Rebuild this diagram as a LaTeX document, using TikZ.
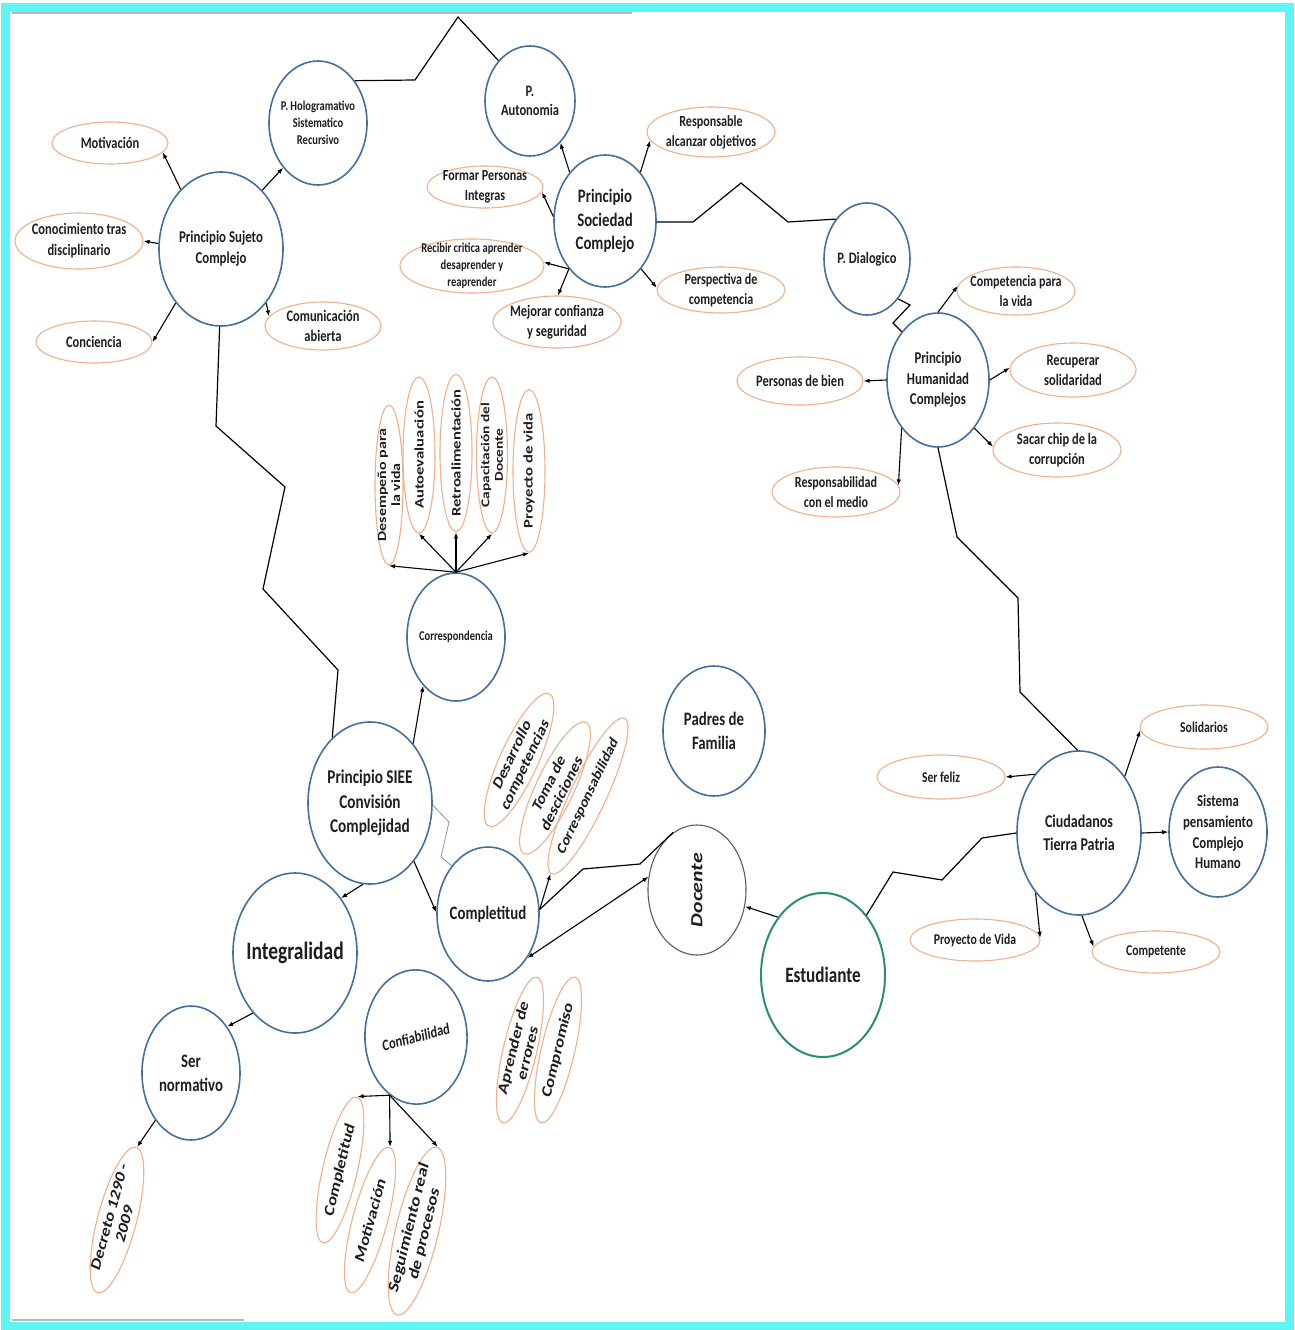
\documentclass[tikz,border=0pt]{standalone}
\usepackage{fontspec}
\setmainfont{Carlito}
\newfontfamily\fh{Carlito}[FakeStretch=0.78]
\newfontfamily\fr{Carlito}
\usetikzlibrary{shapes.geometric,arrows.meta}
\definecolor{bl}{HTML}{44709D}
\definecolor{orc}{HTML}{EFB08A}
\definecolor{tl}{HTML}{2B8C78}
\definecolor{dk}{HTML}{4F5F70}
\definecolor{cy}{HTML}{5EF5F5}
\definecolor{tx}{HTML}{1E1E1E}
\tikzset{
  bc/.style={ellipse, draw=bl, line width=1.6pt, fill=white, inner sep=-90pt, align=center, text=tx},
  oe/.style={ellipse, draw=orc, line width=1.1pt, inner sep=-90pt, align=center, text=tx},
  sz/.style 2 args={minimum width=#1pt, minimum height=#2pt},
  fs/.style 2 args={font=\fh\bfseries\fontsize{#1}{#2}\selectfont},
  fr/.style 2 args={font=\fr\bfseries\fontsize{#1}{#2}\selectfont},
  tr/.style={yscale=1.28, rotate=#1},
  ar/.style={-{Latex[length=6pt,width=4.5pt]}, line width=1.1pt, black},
  arr/.style={{Latex[length=6pt,width=4.5pt]}-{Latex[length=6pt,width=4.5pt]}, line width=1.1pt, black},
  zz/.style={line width=1.2pt, black},
}
\begin{document}
\begin{tikzpicture}[x=1pt,y=-1pt]
\useasboundingbox (0,0) rectangle (1294,1330);
\fill[white] (0,0) rectangle (1294,1330);
\draw[cy, line width=9pt] (5.5,7.5) rectangle (1289.5,1326);
\draw[gray!55, line width=1.2pt] (12,13) -- (632,13);
\draw[gray!55, line width=1.2pt] (12,1320) -- (244,1320);

% blue circles
\node[bc, sz={124}{154}, fs={16.5}{21}] (suj) at (221,249) {Principio Sujeto\\Complejo};
\node[bc, sz={98}{124}, fs={13.5}{16.7}] (hol) at (318,123) {P. Hologramativo\\Sistematico\\Recursivo};
\node[bc, sz={90}{110}, fs={16}{19}] (aut) at (530,101) {P.\\Autonomia};
\node[bc, sz={102}{132}, fs={19}{23.5}] (soc) at (605,221) {Principio\\Sociedad\\Complejo};
\node[bc, sz={86}{112}, fs={16}{20}] (dia) at (867,259) {P. Dialogico};
\node[bc, sz={102}{134}, fs={16.5}{20.5}] (hum) at (938,380) {Principio\\Humanidad\\Complejos};
\node[bc, sz={98}{128}, fs={13.5}{16}] (cor) at (456,637) {Correspondencia};
\node[bc, sz={124}{162}, fs={19.5}{24.5}] (siee) at (370,803) {Principio SIEE\\Convisión\\Complejidad};
\node[bc, sz={124}{160}, fs={25}{30}] (int) at (295,953) {Integralidad};
\node[bc, sz={102}{134}, fs={19}{23}] (comp) at (488,914) {Completitud};
\node[bc, sz={102}{130}, fs={19}{23.5}] (pad) at (714,731) {Padres de\\Familia};
\node[bc, draw=dk, line width=1.1pt, tr=90, sz={101.6}{98}, font=\fr\bfseries\itshape\fontsize{17}{20}\selectfont] (doc) at (697,890) {Docente};
\node[bc, draw=tl, line width=2pt, sz={124}{164}, fs={22}{26}] (est) at (823,975) {Estudiante};
\node[bc, sz={124}{164}, fs={18}{23}] (ciu) at (1079,833) {Ciudadanos\\Tierra Patria};
\node[bc, sz={98}{130}, fs={16.5}{20.7}] (sis) at (1218,832) {Sistema\\pensamiento\\Complejo\\Humano};
\node[bc, sz={98}{134}, fs={19}{24}] (ser) at (191,1073) {Ser\\normativo};
\node[bc, tr=11.8, sz={102}{105}, fr={12.5}{15}] (conf) at (416,1037) {Confiabilidad};

% orange ellipses
\node[oe, sz={116}{42}, fs={16}{20}] (mot1) at (110,143) {Motivación};
\node[oe, sz={128}{56}, fs={16}{21}] (con) at (79,241) {Conocimiento tras\\disciplinario};
\node[oe, sz={116}{42}, fs={16}{20}] (cie) at (94,342) {Conciencia};
\node[oe, sz={116}{48}, fs={16}{20}] (cab) at (323,326) {Comunicación\\abierta};
\node[oe, sz={116}{42}, fs={15.5}{20}] (fpi) at (485,187) {Formar Personas\\Integras};
\node[oe, sz={144}{54}, fs={13.5}{16.7}] (rec) at (472,266) {Recibir critica aprender\\desaprender y\\reaprender};
\node[oe, sz={128}{52}, fs={16}{20}] (mej) at (557,322) {Mejorar confianza\\y seguridad};
\node[oe, sz={128}{50}, fs={15.5}{20}] (res) at (711,132) {Responsable\\alcanzar objetivos};
\node[oe, sz={128}{46}, fs={15.5}{20}] (per) at (721,290) {Perspectiva de\\competencia};
\node[oe, sz={118}{48}, fs={15.5}{20}] (cpv) at (1016,291) {Competencia para\\la vida};
\node[oe, sz={126}{48}, fs={16}{20}] (pdb) at (800,381) {Personas de bien};
\node[oe, sz={126}{54}, fs={16}{20}] (rso) at (1073,370) {Recuperar\\solidaridad};
\node[oe, sz={128}{54}, fs={16}{20}] (sch) at (1057,450) {Sacar chip de la\\corrupción};
\node[oe, sz={128}{50}, fs={15.5}{20}] (rme) at (836,492) {Responsabilidad\\con el medio};
\node[oe, sz={128}{44}, fs={15}{18}] (sol) at (1204,727) {Solidarios};
\node[oe, sz={128}{44}, fs={15}{18}] (sfe) at (941,777) {Ser feliz};
\node[oe, sz={130}{42}, fs={15}{18}] (pvi) at (975,940) {Proyecto de Vida};
\node[oe, sz={128}{42}, fs={15}{18}] (cte) at (1156,952) {Competente};

% rotated orange ellipses
\node[oe, tr=90, sz={125}{28}, fr={12.5}{14}] (dpv) at (389,485) {Desempeño para\\la vida};
\node[oe, tr=90, sz={122}{32}, fr={13}{15}] (aev) at (419,455) {Autoevaluación};
\node[oe, tr=90, sz={123}{32}, fr={13}{15}] (ret) at (456,453) {Retroalimentación};
\node[oe, tr=90, sz={122}{31}, fr={12}{13.5}] (cap) at (492,455) {Capacitación del\\Docente};
\node[oe, tr=90, sz={127}{32}, fr={13}{15}] (pvd) at (529,471) {Proyecto de vida};
\node[oe, tr=58.6, sz={120}{36}, fr={14}{15}] (dco) at (519,760) {Desarrollo\\competencias};
\node[oe, tr=57.8, sz={120}{36}, fr={14}{15}] (tdd) at (555,788) {Toma de\\desciciones};
\node[oe, tr=58.3, sz={142}{34}, fr={13}{15}] (crs) at (588,796) {Corresponsabilidad};
\node[oe, tr=72.9, sz={119}{33}, fr={14.5}{15}] (ade) at (520,1050) {Aprender de\\errores};
\node[oe, tr=72.9, sz={119}{33}, fr={14.5}{15}] (cmp) at (558,1050) {Compromiso};
\node[oe, tr=72.9, sz={119}{34}, fr={14.5}{15}] (lcm) at (340,1170) {Completitud};
\node[oe, tr=70.6, sz={120}{34}, fr={14.5}{15}] (lmo) at (370,1220) {Motivación};
\node[oe, tr=72.5, sz={137}{42}, fr={15}{16}] (seg) at (417,1231) {Seguimiento real\\de procesos};
\node[oe, tr=70.6, sz={120}{38}, fr={14.5}{16}] (dec) at (117,1220) {Decreto 1290 -\\2009};

% zigzag connectors
\draw[zz] (hol.49) -- (415,80) -- (458,17) -- (aut.128);
\draw[zz] (soc.-1) -- (693,222) -- (741,183) -- (788,222) -- (dia.128);
\draw[zz] (dia.-52) -- (910,305) -- (893,323) -- (hum.127);
\draw[zz] (hum.-90) -- (957,537) -- (1018,598) -- (1020,692) -- (ciu.91);
\draw[zz] (suj.-91) -- (216,426) -- (285,487) -- (263,589) -- (338,670) -- (siee.120);
\draw[line width=0.8pt, bl!70] (siee.-2) -- (449,822) -- (441,857) -- (comp.127);
\draw[zz] (comp.5) -- (583,869) -- (640,864) -- (doc.28);
\draw[zz] (est.54) -- (893,872) -- (942,880) -- (982,838) -- (ciu.180);

% arrows
\draw[ar] (suj.124) -- (mot1.-10);
\draw[ar] (suj.175) -- (con.0);
\draw[ar] (suj.-130) -- (cie.0);
\draw[ar] (suj.-50) -- (cab.170);
\draw[ar] (suj.55) -- (hol.-128);
\draw[ar] (soc.126) -- (aut.-54);
\draw[ar] (soc.54) -- (res.-172);
\draw[ar] (soc.175) -- (fpi.-5);
\draw[ar] (soc.-127) -- (rec.3);
\draw[ar] (soc.-127) -- (mej.88);
\draw[ar] (soc.-53) -- (per.178);
\draw[ar] (hum.90) -- (cpv.175);
\draw[ar] (hum.180) -- (pdb.0);
\draw[ar] (hum.0) -- (rso.178);
\draw[ar] (hum.-53) -- (sch.177);
\draw[ar] (hum.-127) -- (rme.6);
\draw[ar] (cor.90) -- (dpv.west);
\draw[ar] (cor.90) -- (aev.west);
\draw[ar] (cor.90) -- (ret.west);
\draw[ar] (cor.90) -- (cap.west);
\draw[ar] (cor.90) -- (pvd.west);
\draw[ar] (siee.54) -- (cor.-124);
\draw[ar] (siee.-95) -- (int.50);
\draw[ar] (siee.-53) -- (comp.178);
\draw[ar] (comp.5) -- (crs.west);
\draw[arr] (comp.-48) -- (doc.78);
\draw[ar] (est.128) -- (doc.-105);
\draw[ar] (ciu.51) -- (sol.-177);
\draw[ar] (ciu.127) -- (sfe.0);
\draw[ar] (ciu.0) -- (sis.180);
\draw[ar] (ciu.-126) -- (pvi.2);
\draw[ar] (ciu.-88) -- (cte.175);
\draw[ar] (int.-125) -- (ser.52);
\draw[ar] (ser.-127) -- (dec.east);
\draw[ar] (conf.-132) -- (lcm.east);
\draw[ar] (conf.-132) -- (lmo.east);
\draw[ar] (conf.-132) -- (seg.east);
\end{tikzpicture}
\end{document}
